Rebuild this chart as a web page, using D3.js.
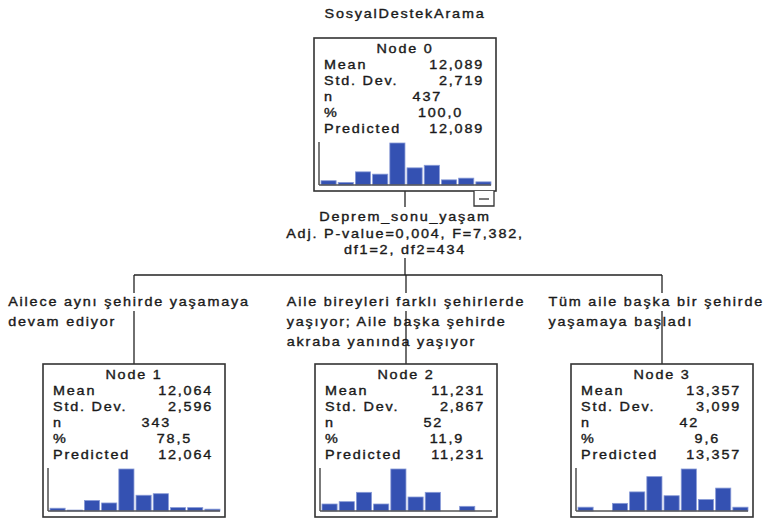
<!DOCTYPE html>
<html><head><meta charset="utf-8">
<script src="https://cdn.jsdelivr.net/npm/d3@7"></script>
<style>
html,body{margin:0;padding:0;background:#fff;}
text{font-family:"Liberation Sans",Arial,sans-serif;font-size:12px;fill:#1a1a1a;stroke:#1a1a1a;stroke-width:0.35px;letter-spacing:1.5px;}
</style></head>
<body><svg id="c" width="766" height="521"></svg>
<script>
// ---- data ----
const chartTitle = "SosyalDestekArama";
const nodeIds = [0, 1, 2, 3];
const nodeMean = [12.089, 12.064, 11.231, 13.357];
const nodeStd = [2.719, 2.596, 2.867, 3.099];
const nodeN = [437, 343, 52, 42];
const nodePct = [100.0, 78.5, 11.9, 9.6];
const nodePredicted = [12.089, 12.064, 11.231, 13.357];
const histBins = [1, 2, 3, 4, 5, 6, 7, 8, 9, 10];
const hist0 = [15, 9, 46, 38, 147, 60, 69, 18, 24, 11];
const hist1 = [9, 3, 34, 26, 136, 51, 56, 11, 11, 6];
const hist2 = [3, 4, 8, 3, 18, 6, 8, 0, 2, 0];
const hist3 = [1, 0, 2, 5, 9, 4, 11, 3, 6, 1];
const splitLines = ["Deprem_sonu_yaşam", "Adj. P-value=0,004, F=7,382,", "df1=2, df2=434"];
const edgeLabel1 = ["Ailece aynı şehirde yaşamaya", "devam ediyor"];
const edgeLabel2 = ["Aile bireyleri farklı şehirlerde", "yaşıyor; Aile başka şehirde", "akraba yanında yaşıyor"];
const edgeLabel3 = ["Tüm aile başka bir şehirde", "yaşamaya başladı"];
const rowLabels = ["Mean", "Std. Dev.", "n", "%", "Predicted"];

// ---- layout ----
const svg = d3.select("#c");
const hists = [hist0, hist1, hist2, hist3];
const edgeLabels = [null, edgeLabel1, edgeLabel2, edgeLabel3];
const loc = d3.formatLocale({decimal: ",", thousands: ".", grouping: [3], currency: ["", ""]});
const f3 = loc.format(".3f"), f1 = loc.format(".1f"), f0 = loc.format("d");
const BW = 182, BH = 153;
const childX = d3.scaleOrdinal().domain([1, 2, 3]).range([134, 406, 662]);
const nodeX = id => id === 0 ? 405 : childX(id);
const nodeY = id => id === 0 ? 38 : 364;
const SX = 1.2;

function txt(g, x, y, s, anchor) {
  return g.append("text").attr("transform", `translate(${x},${y}) scale(${SX},1)`)
    .attr("text-anchor", anchor || "start").text(s);
}

// title
txt(svg, 405, 18, chartTitle, "middle");

// connectors
const lineG = svg.append("g").attr("stroke", "#222").attr("stroke-width", 1.3);
const hY = 275;
lineG.append("line").attr("x1", nodeX(0)).attr("x2", nodeX(0)).attr("y1", nodeY(0) + BH).attr("y2", 207);
lineG.append("line").attr("x1", nodeX(0)).attr("x2", nodeX(0)).attr("y1", 258).attr("y2", hY);
lineG.append("line").attr("x1", childX(1)).attr("x2", childX(3)).attr("y1", hY).attr("y2", hY);
[1, 2, 3].forEach(id => {
  lineG.append("line").attr("x1", childX(id)).attr("x2", childX(id)).attr("y1", hY).attr("y2", nodeY(id));
});

// split label
splitLines.forEach((s, i) => txt(svg, 405, 221 + i * 16.5, s, "middle"));

// edge labels
const labelShift = [0, -5, 0, 0];
[1, 2, 3].forEach(id => {
  const lines = edgeLabels[id];
  const g = svg.append("g");
  const ts = lines.map((s, i) => txt(g, 0, 306 + i * 20, s));
  const w = d3.max(ts, t => t.node().getComputedTextLength()) * SX;
  let x0 = Math.max(6, Math.min(766 - w - 2, childX(id) - w / 2 + labelShift[id]));
  g.insert("rect", "text").attr("x", x0 - 2).attr("y", 293).attr("width", w + 4).attr("height", 18).attr("fill", "#fff");
  ts.forEach((t, i) => t.attr("transform", `translate(${x0},${306 + i * 20}) scale(${SX},1)`));
});

// nodes
nodeIds.forEach(id => {
  const cx = nodeX(id), top = nodeY(id);
  const left = cx - BW / 2, right = cx + BW / 2;
  const g = svg.append("g");
  g.append("rect").attr("x", left).attr("y", top).attr("width", BW).attr("height", BH)
    .attr("fill", "#fff").attr("stroke", "#333").attr("stroke-width", 1.6);
  txt(g, cx, top + 15, "Node " + id, "middle");
  const vals = [f3(nodeMean[id]), f3(nodeStd[id]), f0(nodeN[id]), f1(nodePct[id]), f3(nodePredicted[id])];
  const off = [12, 12, 54, 33, 12];
  rowLabels.forEach((lab, i) => {
    const y = top + 31 + i * 16;
    txt(g, left + 10, y, lab);
    txt(g, right - off[i], y, vals[i], "end");
  });
  // histogram
  const base = top + 147;
  const x = d3.scaleBand().domain(histBins).range([left + 7, right - 5]).paddingInner(0.12);
  const y = d3.scaleLinear().domain([0, d3.max(hists[id])]).range([base, base - 42]);
  g.selectAll("rect.bar").data(hists[id]).join("rect").attr("class", "bar")
    .attr("x", (d, i) => x(histBins[i])).attr("width", x.bandwidth())
    .attr("y", d => y(d)).attr("height", d => base - y(d))
    .attr("fill", "#3451b2").attr("stroke", "#8799d6").attr("stroke-width", 0.8);
  g.append("line").attr("x1", left + 5).attr("x2", left + 5).attr("y1", base - 43).attr("y2", base)
    .attr("stroke", "#333").attr("stroke-width", 1.3);
  g.append("line").attr("x1", left + 5).attr("x2", right - 5).attr("y1", base).attr("y2", base)
    .attr("stroke", "#555").attr("stroke-width", 1.3);
  if (id === 0) {
    const bx = right - 22, by = top + BH;
    g.append("path").attr("d", `M${bx},${by}V${by + 15}H${bx + 20}V${by}`)
      .attr("fill", "#fff").attr("stroke", "#333").attr("stroke-width", 1.3);
    g.append("line").attr("x1", bx + 5).attr("x2", bx + 15).attr("y1", by + 8).attr("y2", by + 8)
      .attr("stroke", "#333").attr("stroke-width", 1.3);
  }
});
</script></body></html>
